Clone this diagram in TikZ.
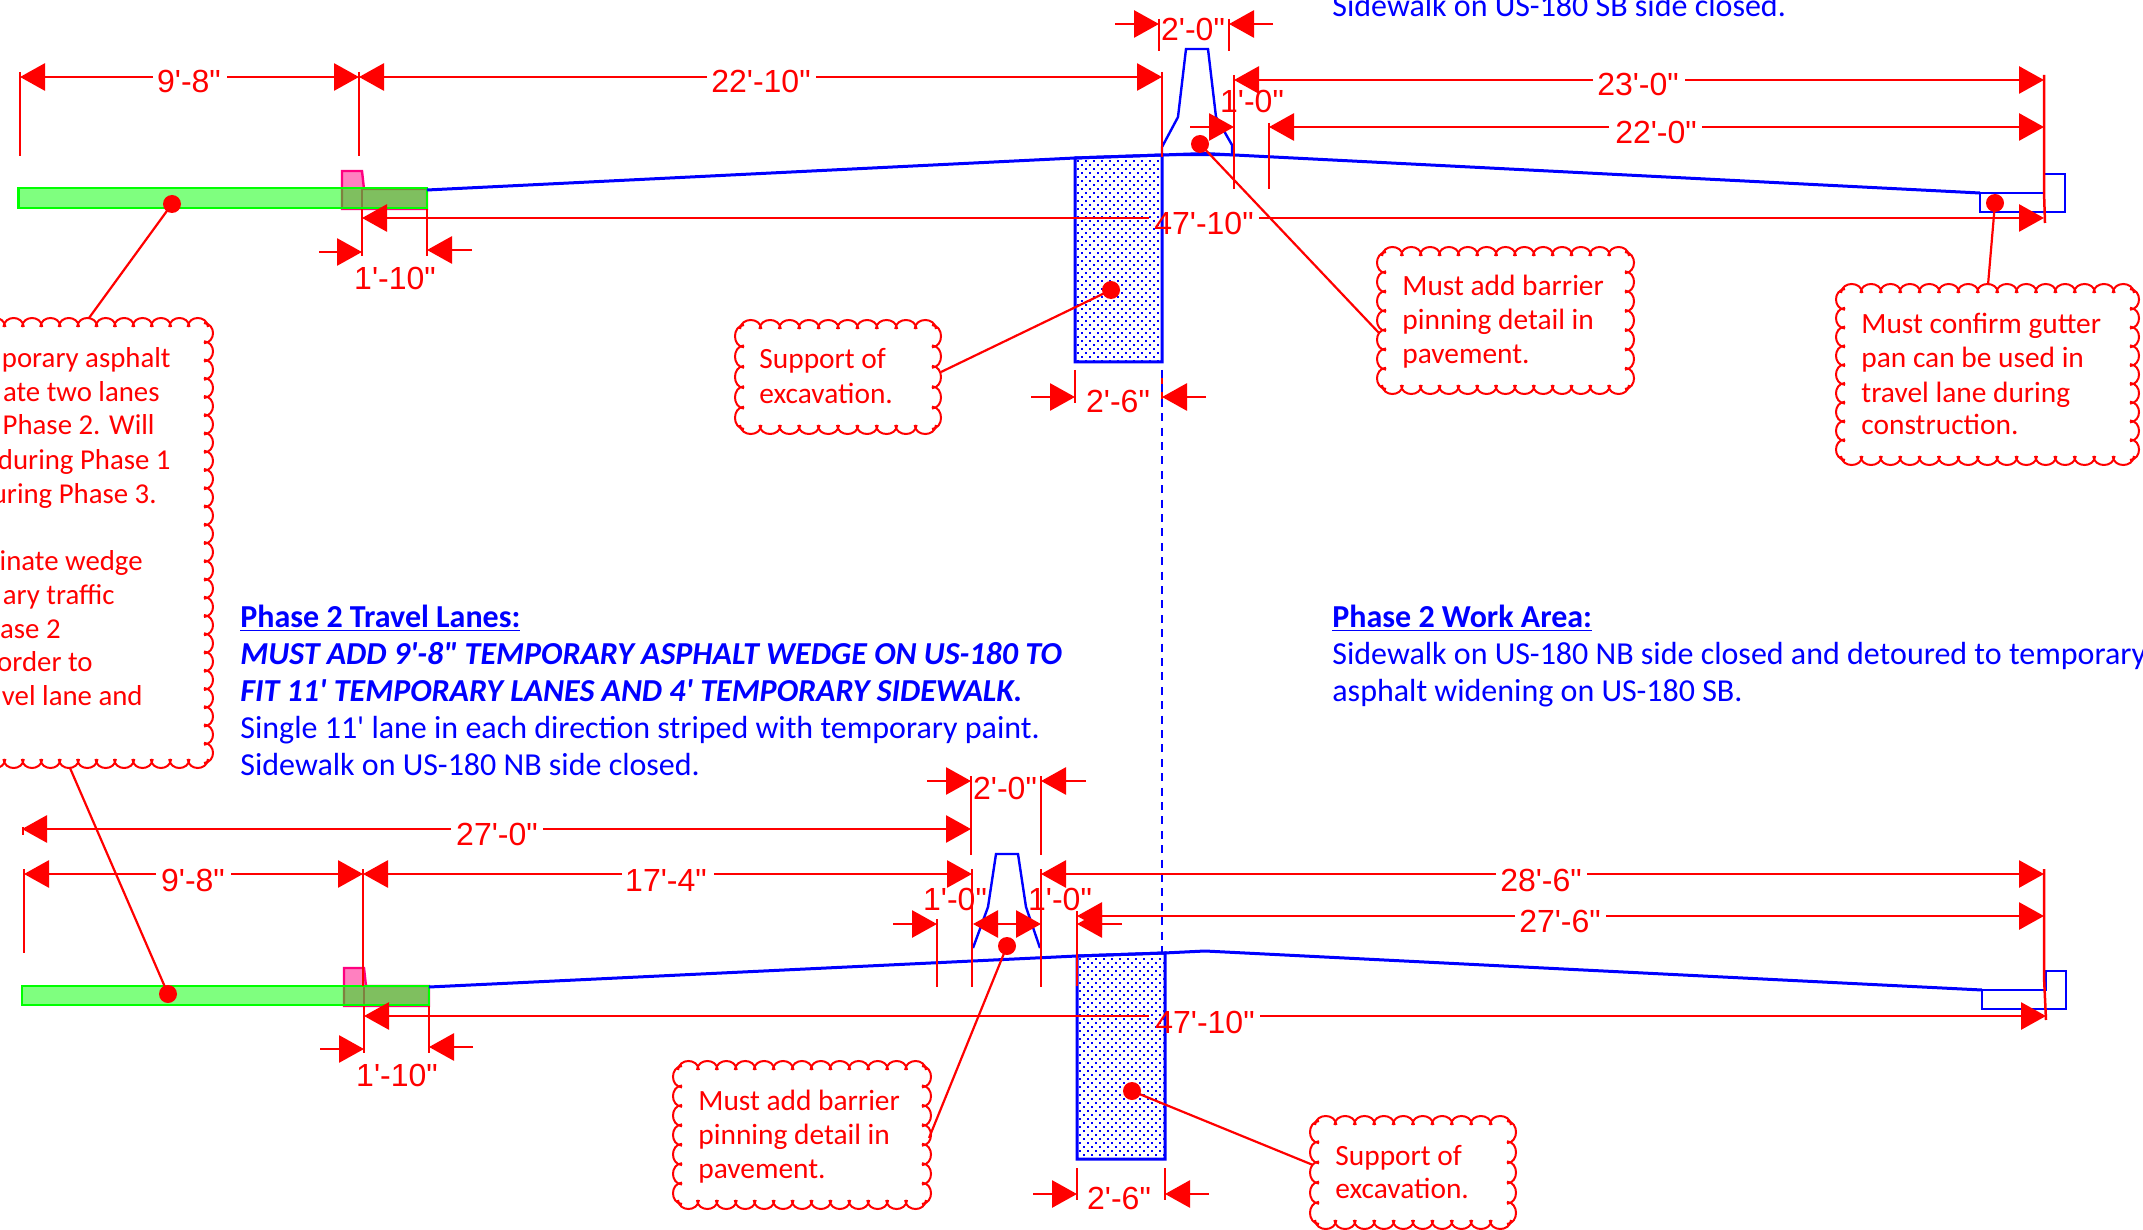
\documentclass[tikz,border=0pt]{standalone}
\usepackage{fontspec}
\usetikzlibrary{arrows.meta}
\defaultfontfeatures{}
\newfontfamily\dimfont{Liberation Sans}
\newfontfamily\notefont{Carlito}
\definecolor{pinkfill}{HTML}{FF80C0}
\definecolor{pinkline}{HTML}{FF0080}
\tikzset{
  >={Triangle[length=12.5pt,width=13.5pt]},
  dimline/.style={draw=red,line width=1.45pt},
  extline/.style={draw=red,line width=1.25pt},
  leader/.style={draw=red,line width=1.1pt},
  reddot/.style={circle,fill=red,inner sep=0pt,minimum size=9pt},
  dimlabel/.style={font=\dimfont\fontsize{16}{19}\selectfont,text=red,inner sep=0pt,anchor=base},
  notetext/.style={font=\notefont\fontsize{14.7}{17}\selectfont,text=red,inner sep=0pt,anchor=base west},
  notefrag/.style={font=\notefont\fontsize{14.4}{17}\selectfont,text=red,inner sep=0pt,anchor=base east},
  bluetext/.style={font=\notefont\fontsize{16}{19}\selectfont,text=blue,inner sep=0pt,anchor=base west},
  road/.style={draw=blue,line width=1.5pt,line join=miter},
  gutter/.style={draw=blue,line width=1.3pt,line join=miter},
  barrier/.style={draw=blue,line width=1.2pt},
  excav/.style={draw=blue,line width=1.5pt},
  cloudline/.style={draw=red,line width=1pt},
  greenrect/.style={draw=green,line width=1.4pt,fill=green,fill opacity=.5},
  pinkshape/.style={draw=pinkline,fill=pinkfill,line width=1.2pt}
}
% scalloped callout outline: x1 y1 x2 y2 nx ny
\newcommand{\CloudBox}[6]{%
  \pgfmathsetmacro\cldw{(#3-(#1)-12)/#5}%
  \pgfmathsetmacro\cldh{(#4-(#2)-12)/#6}%
  \foreach \i in {1,...,#5}{%
    \pgfmathsetmacro\xa{#1+6+(\i-1)*\cldw}%
    \pgfmathsetmacro\xb{\xa+\cldw}%
    \draw[cloudline] (\xa-1,#2+9) .. controls (\xa,#2-3) and (\xb,#2-3) .. (\xb+1,#2+9);
    \draw[cloudline] (\xa-1,#4-9) .. controls (\xa,#4+3) and (\xb,#4+3) .. (\xb+1,#4-9);
  }%
  \foreach \i in {1,...,#6}{%
    \pgfmathsetmacro\ya{#2+6+(\i-1)*\cldh}%
    \pgfmathsetmacro\yb{\ya+\cldh}%
    \draw[cloudline] (#1+9,\ya-1) .. controls (#1-3,\ya) and (#1-3,\yb) .. (#1+9,\yb+1);
    \draw[cloudline] (#3-9,\ya-1) .. controls (#3+3,\ya) and (#3+3,\yb) .. (#3-9,\yb+1);
  }%
}
% dimension with a gap: name y xL gapL gapR xR label lx ly
\newcommand{\HDim}[9]{%
  \draw[dimline,->] (#4,#2) -- (#3,#2);
  \draw[dimline,->] (#5,#2) -- (#6,#2);
  \node[dimlabel] (#1) at (#8,#9) {#7};
}
% dotted excavation block: x1 x2 ytopleft ytopright ybottom
\newcommand{\Excav}[5]{%
  \begin{scope}
    \clip (#1,#3) -- (#2,#4) -- (#2,#5) -- (#1,#5) -- cycle;
    \foreach \r in {0,...,52}{%
      \pgfmathsetmacro\off{mod(\r,2)*4}%
      \foreach \c in {0,...,11}{%
        \fill[blue] (#1+3+\off+\c*8-1,#3+3+\r*4-1) rectangle ++(2.2,2.2);
      }%
    }%
  \end{scope}
  \draw[excav] (#1,#3) -- (#2,#4) -- (#2,#5) -- (#1,#5) -- cycle;
}
\begin{document}
\begin{tikzpicture}[x=0.5pt,y=-0.5pt]
\useasboundingbox (0,0) rectangle (2143,1230);
\fill[white] (0,0) rectangle (2143,1230);
\clip (0,0) rectangle (2143,1230);

%% ---------- upper section: pavement ----------
\draw[pinkshape] (342,171) -- (362,171) -- (364,189) -- (427,189) -- (427,209) -- (342,209) -- cycle;
\draw[draw=pinkline,line width=1.2pt] (362,189) -- (362,209);
\draw[greenrect] (18.5,188) rectangle (427,208);
\draw[road] (427,190) -- (1075,158) -- (1162,155) -- (1205,153.5) -- (1980,193);
\draw[gutter] (1980,193) -- (1980,212) -- (2065,212) -- (2065,174) -- (2044,174) -- (2044,193) -- cycle;
\draw[barrier] (1162,147) -- (1178,117) -- (1186,49) -- (1208,49) -- (1216,117) -- (1232,145) -- (1232,155) -- (1162,155) -- cycle;
\Excav{1075}{1162}{158}{155}{362}

%% centre line
\draw[extline] (1162,370) -- (1162,403);
\draw[draw=blue,line width=1.4pt,dash pattern=on 4pt off 3.2pt] (1162,370) -- (1162,952);

%% upper extension lines
\draw[extline] (20,72) -- (20,156);
\draw[extline] (359,72) -- (359,156);
\draw[extline] (1162,72) -- (1162,157);
\draw[extline] (1159,19) -- (1159,51);
\draw[extline] (1229,19) -- (1229,51);
\draw[extline] (1234,75) -- (1234,189);
\draw[extline] (1269,123) -- (1269,189);
\draw[extline] (2044,75) -- (2044,192) -- (2045,223);
\draw[extline] (362,209) -- (362,256);
\draw[extline] (427,209) -- (427,256);
\draw[extline] (1075,370) -- (1075,403);

%% upper dimensions
\HDim{a1}{77}{20}{153}{227}{359}{9'-8"}{189}{93}
\HDim{a2}{77}{359}{707}{816}{1162}{22'-10"}{761}{93}
\HDim{a3}{80}{1234}{1593}{1685}{2044}{23'-0"}{1638}{96}
\HDim{a4}{127}{1269}{1609}{1702}{2044}{22'-0"}{1656}{144}
\HDim{a5}{218}{362}{1149}{1259}{2044}{47'-10"}{1204}{235}
\draw[dimline,->] (1115,24) -- (1159,24);
\draw[dimline,->] (1273,24) -- (1229,24);
\node[dimlabel] (a6) at (1193,41) {2'-0"};
\draw[dimline,->] (1190,127) -- (1234,127);
\node[dimlabel] (a7) at (1252,113) {1'-0"};
\draw[dimline,->] (319,252) -- (362,252);
\draw[dimline,->] (472,250) -- (427,250);
\node[dimlabel] (a8) at (395,290) {1'-10"};
\draw[dimline,->] (1031,397) -- (1075,397);
\draw[dimline,->] (1206,397) -- (1162,397);
\node[dimlabel] (a9) at (1118,413) {2'-6"};

%% upper callouts
\CloudBox{-20}{318}{213}{768}{12}{24}
\node[notefrag] (n1a) at (171,367) {porary asphalt};
\node[notefrag] (n1b) at (160,401) {ate two lanes};
\node[notefrag] (n1c) at (155,435) {Phase 2. Will};
\node[notefrag] (n1d) at (171,469) {during Phase 1};
\node[notefrag] (n1e) at (157,503) {uring Phase 3.};
\node[notefrag] (n1f) at (143,570) {inate wedge};
\node[notefrag] (n1g) at (115,604) {ary traffic};
\node[notefrag] (n1h) at (61,638) {ase 2};
\node[notefrag] (n1i) at (93,671) {order to};
\node[notefrag] (n1j) at (143,705) {vel lane and};

\CloudBox{735}{320}{941}{434}{10}{5}
\node[notetext] (n2a) at (759,369) {Support of};
\node[notetext] (n2b) at (759,403) {excavation.};

\CloudBox{1377}{247}{1634}{394}{13}{7}
\node[notetext] (n3a) at (1402,296) {Must add barrier};
\node[notetext] (n3b) at (1402,330) {pinning detail in};
\node[notetext] (n3c) at (1402,364) {pavement.};

\CloudBox{1836}{284}{2139}{465}{15}{9}
\node[notetext] (n4a) at (1861,334) {Must confirm gutter};
\node[notetext] (n4b) at (1861,368) {pan can be used in};
\node[notetext] (n4c) at (1861,402) {travel lane during};
\node[notetext] (n4d) at (1861,435) {construction.};

%% upper dots and leaders
\node[reddot] (d1) at (172,204) {};
\coordinate (e1) at (89,318);
\draw[leader] (d1.center) -- (e1);
\node[reddot] (d2) at (1111,290) {};
\coordinate (e2) at (941,372);
\draw[leader] (d2.center) -- (e2);
\node[reddot] (d3) at (1200,144) {};
\coordinate (e3) at (1379,333);
\draw[leader] (d3.center) -- (e3);
\node[reddot] (d4) at (1995,203) {};
\coordinate (e4) at (1988,285);
\draw[leader] (d4.center) -- (e4);

%% ---------- blue texts ----------
\node[bluetext] (t0) at (1332,17) {Sidewalk on US-180 SB side closed.};
\node[bluetext] (t1) at (240,627) {\textbf{\underline{Phase 2 Travel Lanes:}}};
\node[bluetext] (t2) at (240,664) {\textbf{\textit{MUST ADD 9'-8" TEMPORARY ASPHALT WEDGE ON US-180 TO}}};
\node[bluetext] (t3) at (240,701) {\textbf{\textit{FIT 11' TEMPORARY LANES AND 4' TEMPORARY SIDEWALK.}}};
\node[bluetext] (t4) at (240,738) {Single 11' lane in each direction striped with temporary paint.};
\node[bluetext] (t5) at (240,775) {Sidewalk on US-180 NB side closed.};
\node[bluetext] (t6) at (1332,627) {\textbf{\underline{Phase 2 Work Area:}}};
\node[bluetext] (t7) at (1332,664) {Sidewalk on US-180 NB side closed and detoured to temporary};
\node[bluetext] (t8) at (1332,701) {asphalt widening on US-180 SB.};

%% ---------- lower section: pavement ----------
\draw[pinkshape] (344,968) -- (364,968) -- (366,986) -- (429,986) -- (429,1006) -- (344,1006) -- cycle;
\draw[draw=pinkline,line width=1.2pt] (364,986) -- (364,1006);
\draw[greenrect] (22,986) rectangle (429,1005);
\draw[road] (429,987) -- (1077,956) -- (1164,953) -- (1205,951) -- (1982,990);
\draw[gutter] (1982,990) -- (1982,1009) -- (2066,1009) -- (2066,971) -- (2046,971) -- (2046,990) -- cycle;
\draw[barrier] (973,948) -- (988,907) -- (996,854) -- (1018,854) -- (1026,907) -- (1040,948);
\Excav{1077}{1165}{956}{953}{1159}

%% lower extension lines
\draw[extline] (23,827) -- (23,835);
\draw[extline] (24,869) -- (24,953);
\draw[extline] (363,869) -- (363,986);
\draw[extline] (971,776) -- (971,855);
\draw[extline] (1041,776) -- (1041,855);
\draw[extline] (972,869) -- (972,987);
\draw[extline] (1041,869) -- (1041,987);
\draw[extline] (937,919) -- (937,987);
\draw[extline] (1077,911) -- (1077,986);
\draw[extline] (2044,869) -- (2044,977) -- (2046,1020);
\draw[extline] (364,1006) -- (364,1053);
\draw[extline] (429,1006) -- (429,1053);
\draw[extline] (1077,1168) -- (1077,1200);
\draw[extline] (1165,1168) -- (1165,1200);

%% lower dimensions
\HDim{b1}{829}{22}{451}{543}{971}{27'-0"}{497}{845}
\HDim{b2}{874}{24}{156}{231}{363}{9'-8"}{193}{891}
\HDim{b3}{874}{363}{622}{714}{972}{17'-4"}{666}{891}
\HDim{b4}{874}{1041}{1496}{1587}{2044}{28'-6"}{1541}{891}
\HDim{b5}{916}{1077}{1515}{1606}{2044}{27'-6"}{1560}{932}
\HDim{b6}{1016}{364}{1149}{1260}{2046}{47'-10"}{1205}{1033}
\draw[dimline,->] (927,781) -- (971,781);
\draw[dimline,->] (1086,781) -- (1041,781);
\node[dimlabel] (b7) at (1005,799) {2'-0"};
\draw[dimline,->] (893,924) -- (937,924);
\draw[dimline,<->] (973,924) -- (1041,924);
\draw[dimline,->] (1122,924) -- (1077,924);
\node[dimlabel] (b8) at (955,910) {1'-0"};
\node[dimlabel] (b9) at (1060,910) {1'-0"};
\draw[dimline,->] (320,1049) -- (364,1049);
\draw[dimline,->] (473,1047) -- (429,1047);
\node[dimlabel] (b10) at (397,1086) {1'-10"};
\draw[dimline,->] (1033,1194) -- (1077,1194);
\draw[dimline,->] (1209,1194) -- (1165,1194);
\node[dimlabel] (b11) at (1119,1209) {2'-6"};

%% lower callouts
\CloudBox{673}{1061}{931}{1209}{13}{7}
\node[notetext] (n5a) at (698,1110) {Must add barrier};
\node[notetext] (n5b) at (698,1144) {pinning detail in};
\node[notetext] (n5c) at (698,1178) {pavement.};

\CloudBox{1310}{1116}{1516}{1229}{10}{5}
\node[notetext] (n6a) at (1335,1165) {Support of};
\node[notetext] (n6b) at (1335,1198) {excavation.};

%% lower dots and leaders
\node[reddot] (d5) at (168,994) {};
\coordinate (e5) at (70,768);
\draw[leader] (d5.center) -- (e5);
\node[reddot] (d6) at (1007,946) {};
\coordinate (e6) at (929,1138);
\draw[leader] (d6.center) -- (e6);
\node[reddot] (d7) at (1132,1091) {};
\coordinate (e7) at (1313,1165);
\draw[leader] (d7.center) -- (e7);
\end{tikzpicture}
\end{document}
